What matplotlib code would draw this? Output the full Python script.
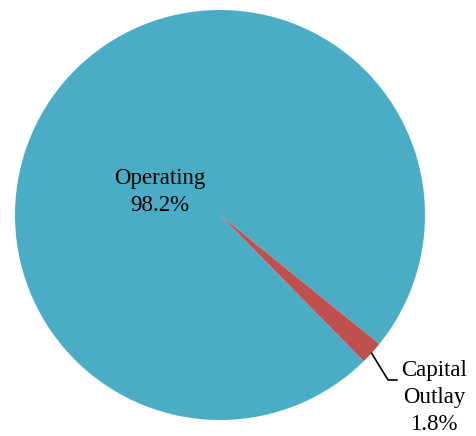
import matplotlib.pyplot as plt

# データ
labels = ['Operating', 'Capital\nOutlay']
values = [98.2, 1.8]
colors = ['#4BACC6', '#C0504D']

plt.rcParams['font.family'] = ['Liberation Serif', 'DejaVu Serif']

fig = plt.figure(figsize=(4.76, 4.36), dpi=100)
# 円の位置（ピクセルで合わせる）
ax = fig.add_axes([15 / 476, 16 / 436, 410 / 476, 410 / 436])

ax.pie(values, colors=colors, startangle=-39, counterclock=True, radius=1,
       wedgeprops=dict(linewidth=0))
ax.set_xlim(-1, 1)
ax.set_ylim(-1, 1)
ax.axis('off')

# ラベル
ax.text(-0.293, 0.112, '%s\n%.1f%%' % (labels[0], values[0]), ha='center', va='center',
        fontsize=16.5, linespacing=1.4, color='black')
ax.text(1.044, -0.89, '%s\n%.1f%%' % (labels[1], values[1]), ha='center', va='center',
        fontsize=16.5, linespacing=1.38, color='black', clip_on=False)
ax.plot([0.740, 0.820, 0.863], [-0.675, -0.805, -0.805], color='black', lw=1.2,
        clip_on=False)

plt.savefig('out.png', dpi=100)
